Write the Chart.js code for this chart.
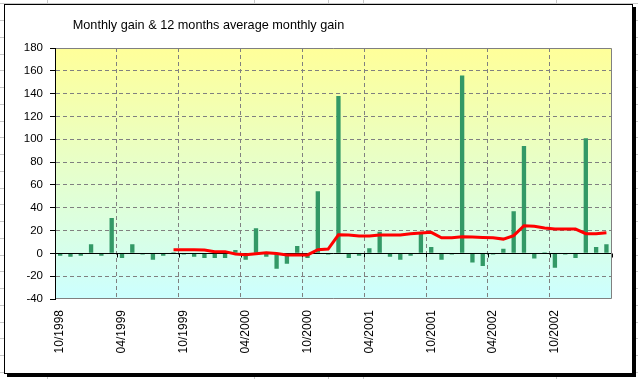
<!DOCTYPE html>
<html><head><meta charset="utf-8">
<script src="https://cdn.jsdelivr.net/npm/chart.js@4/dist/chart.umd.min.js"></script>
<style>
html,body{margin:0;padding:0;background:#fff;width:638px;height:379px;overflow:hidden;position:relative}
#sheet{position:absolute;left:0;top:0}
#frame{position:absolute;left:4px;top:4px;width:627px;height:368px;border:1px solid #000;background:#fff;box-shadow:3px 3px 0 #000}
#c{position:absolute;left:0;top:0}
</style></head>
<body>
<canvas id="sheet" width="638" height="379"></canvas>
<div id="frame"><canvas id="c" width="627" height="368"></canvas></div>
<script>
const chartTitle = "Monthly gain & 12 months average monthly gain";
const months = ["10/1998","11/1998","12/1998","01/1999","02/1999","03/1999","04/1999","05/1999","06/1999","07/1999","08/1999","09/1999",
"10/1999","11/1999","12/1999","01/2000","02/2000","03/2000","04/2000","05/2000","06/2000","07/2000","08/2000","09/2000",
"10/2000","11/2000","12/2000","01/2001","02/2001","03/2001","04/2001","05/2001","06/2001","07/2001","08/2001","09/2001",
"10/2001","11/2001","12/2001","01/2002","02/2002","03/2002","04/2002","05/2002","06/2002","07/2002","08/2002","09/2002",
"10/2002","11/2002","12/2002","01/2003","02/2003","03/2003"];
const monthlyGain = [-2,-3,-2,8,-2,31,-4,8,-1,-5.5,-2,1,
-1,-3,-4,-4,-4,3,-5.5,22,-3,-13.5,-9,6.5,
-4,54.5,-1,138,-4,-2,4.5,19,-3,-5.5,-2,18.5,
5.5,-5.5,-1,156,-8,-11,-1,4,37,94,-4.5,1,
-12.5,-1,-4,101,5.5,8];
const avgGain12 = [null,null,null,null,null,null,null,null,null,null,null,3.2,
3.2,3.2,3.0,1.5,1.5,-0.5,-1.3,-0.3,0.6,-0.2,-1.4,-1.4,
-1.4,3.2,3.8,16.3,16.0,15.2,15.2,16.0,16.0,16.0,17.2,17.8,
18.4,13.7,13.7,14.6,14.3,14.0,13.7,12.5,15.5,24.2,23.8,22.3,
21.3,21.3,21.3,17.2,17.2,18.0];
const yTicks = {min:-40, max:180, step:20};
const labelEvery = 6;

// spreadsheet background
(function(){
  const s = document.getElementById('sheet').getContext('2d');
  s.strokeStyle = '#c8c8c8'; s.lineWidth = 1;
  [47,254,328,363,556].forEach(x=>{s.beginPath();s.moveTo(x+0.5,0);s.lineTo(x+0.5,379);s.stroke();});
  for(let y=3.3;y<379;y+=16.75){const yy=Math.round(y)+0.5;s.beginPath();s.moveTo(0,yy);s.lineTo(638,yy);s.stroke();}
})();

const FONT = "'Liberation Sans', Arial, sans-serif";
const transparent = 'rgba(0,0,0,0)';

const decor = {
  id:'decor',
  beforeDraw(chart){
    const a = chart.chartArea, c = chart.ctx;
    const g = c.createLinearGradient(0,a.top,0,a.bottom);
    g.addColorStop(0,'#FFFF99'); g.addColorStop(1,'#CCFFFF');
    c.save(); c.fillStyle = g; c.fillRect(a.left,a.top,a.right-a.left,a.bottom-a.top); c.restore();
  },
  afterDatasetDraw(chart,args){
    if(args.index!==1) return;
    const a = chart.chartArea, c = chart.ctx, xs = chart.scales.x, ys = chart.scales.y;
    const y0 = Math.round(ys.getPixelForValue(0))+0.5;
    c.save(); c.strokeStyle='#000'; c.lineWidth=1;
    c.beginPath(); c.moveTo(a.left,y0); c.lineTo(a.right,y0);
    for(let i=labelEvery;i<=months.length;i+=labelEvery){
      const px = i<months.length ? (xs.getPixelForValue(i-1)+xs.getPixelForValue(i))/2 : a.right;
      const xx = Math.round(px)+0.5;
      c.moveTo(xx,y0); c.lineTo(xx,y0+4);
    }
    if(months.length%labelEvery!==0){const xx=Math.round(a.right)-0.5;c.moveTo(xx,y0);c.lineTo(xx,y0+4);}
    c.stroke(); c.restore();
  },
  afterDraw(chart){
    const a = chart.chartArea, c = chart.ctx;
    c.save();
    c.strokeStyle='#808080'; c.lineWidth=1;
    c.beginPath();
    c.moveTo(a.left,Math.round(a.top)+0.5); c.lineTo(Math.round(a.right)-0.5,Math.round(a.top)+0.5);
    c.lineTo(Math.round(a.right)-0.5,Math.round(a.bottom)-0.5); c.lineTo(a.left,Math.round(a.bottom)-0.5);
    c.stroke();
    c.strokeStyle='#000';
    c.beginPath(); c.moveTo(Math.round(a.left)+0.5,a.top); c.lineTo(Math.round(a.left)+0.5,a.bottom); c.stroke();
    c.fillStyle='#000'; c.font = "12.7px "+FONT; c.textBaseline='alphabetic'; c.textAlign='left';
    c.fillText(chartTitle, 67.7, 24.3);
    c.restore();
  }
};

new Chart(document.getElementById('c'), {
  type:'bar',
  data:{
    labels: months,
    datasets:[
      {type:'line', label:'12 months average', data:avgGain12, borderColor:'#FF0000', borderWidth:3, pointRadius:0, tension:0, fill:false, spanGaps:false},
      {type:'bar', label:'Monthly gain', data:monthlyGain, backgroundColor:'#339966', borderWidth:0, categoryPercentage:1, barPercentage:0.42}
    ]
  },
  options:{
    responsive:false, animation:false, devicePixelRatio:1,
    layout:{padding:{top:43,right:18,left:0,bottom:0}},
    plugins:{legend:{display:false}, tooltip:{enabled:false}, title:{display:false}},
    scales:{
      x:{
        type:'category', offset:true,
        afterFit(s){ s.height = 74; },
        grid:{offset:true, drawTicks:false, lineWidth:1,
          color: ctx => (ctx.index>0 && ctx.index%labelEvery===0 && ctx.index<months.length) ? '#808080' : transparent},
        border:{display:false, dash:[4,3]},
        ticks:{autoSkip:false, maxRotation:90, minRotation:90, padding:11, color:'#000',
          font:{family:FONT, size:12},
          callback:(v,i)=> i%labelEvery===0 ? months[i] : ''}
      },
      y:{
        min:yTicks.min, max:yTicks.max,
        afterFit(s){ s.width = 50; },
        ticks:{stepSize:yTicks.step, padding:7, color:'#000', font:{family:FONT, size:11.5}},
        grid:{lineWidth:1, tickLength:5, tickColor:'#000', tickBorderDash:[],
          color: ctx => (ctx.tick && (ctx.tick.value===0 || ctx.tick.value===yTicks.min || ctx.tick.value===yTicks.max)) ? transparent : '#808080'},
        border:{display:true, color:'#000', width:1, dash:[4,3]}
      }
    }
  },
  plugins:[decor]
});
</script>
</body></html>
